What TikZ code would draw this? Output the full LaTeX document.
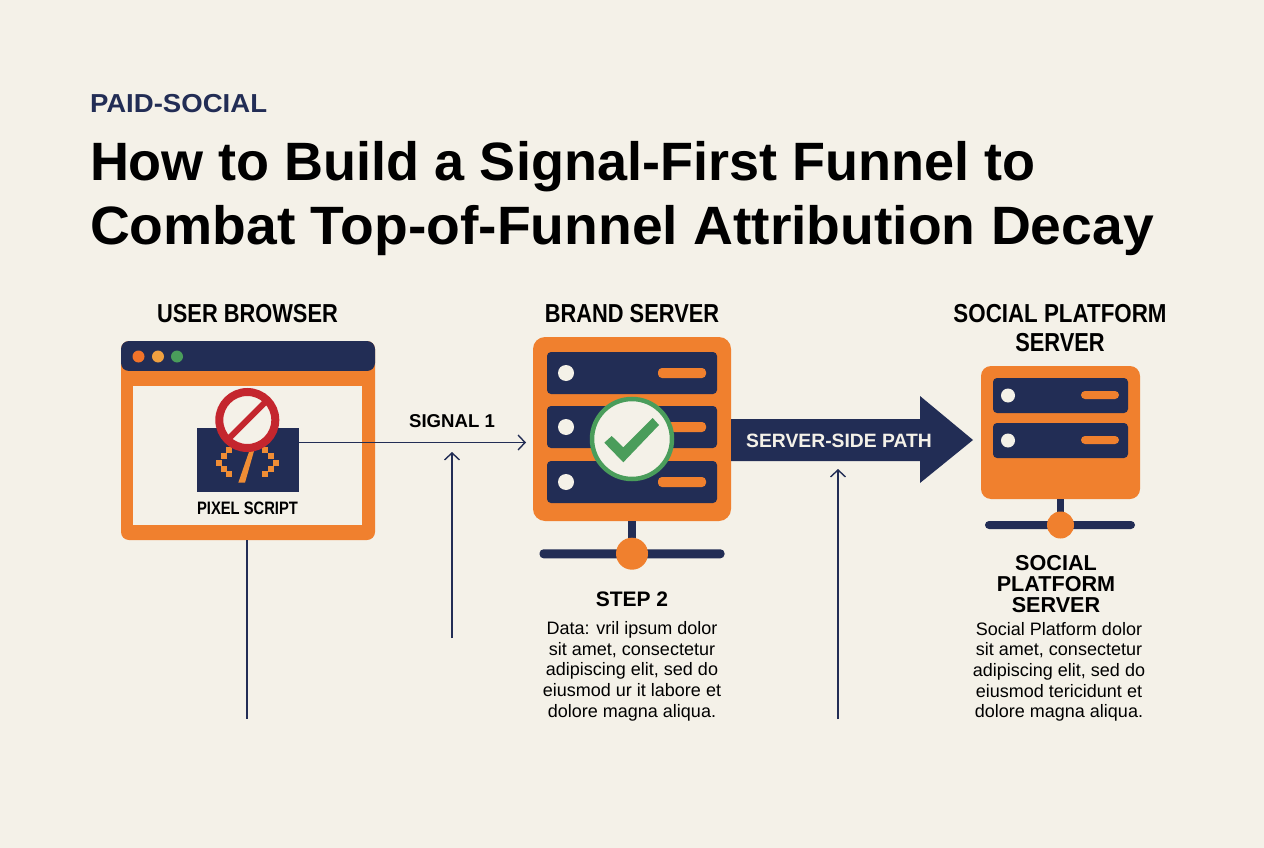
\documentclass[tikz,border=0pt]{standalone}
\usepackage{fontspec}
\setmainfont{Liberation Sans}
\usetikzlibrary{arrows.meta,calc}
\definecolor{bgc}{HTML}{F4F1E8}
\definecolor{navy}{HTML}{222D55}
\definecolor{orng}{HTML}{F0802E}
\definecolor{grn}{HTML}{4A9D5B}
\definecolor{redc}{HTML}{C4262E}
\definecolor{ambr}{HTML}{F0A040}
\tikzset{
  blk/.style={draw=none,inner sep=0pt,outer sep=0pt},
  txtn/.style={inner sep=0pt,outer sep=0pt,align=center,text=black},
  title/.style={txtn,anchor=base west,font=\fontsize{54}{60}\selectfont\bfseries},
  head/.style={txtn,anchor=base,font=\fontsize{26}{29}\selectfont\bfseries,xscale=.84},
  bodyt/.style={txtn,anchor=north,font=\fontsize{18}{20.7}\selectfont},
  sub/.style={txtn,anchor=base,font=\fontsize{21}{21}\selectfont\bfseries},
  wire/.style={draw=navy,line width=1.4pt},
  tip/.style={wire,-{Straight Barb[length=7pt,width=15pt,line width=1.4pt]}},
  pxl/.style={blk,fill=ambr!40!orng,minimum size=6.2pt},
  rack/.style={blk,fill=navy,rounded corners=4pt},
  pill/.style={blk,fill=orng,rounded corners=4pt},
  ldot/.style={blk,circle,fill=bgc}
}
\begin{document}
\begin{tikzpicture}[x=1pt,y=-1pt]
\useasboundingbox (0,0) rectangle (1264,848);
\fill[bgc] (0,0) rectangle (1264,848);

\node[txtn,anchor=base west,text=navy,font=\fontsize{26}{26}\selectfont\bfseries,xscale=1.06] (kicker) at (90,112.5) {PAID-SOCIAL};
\node[title] (t1) at (90,180) {How to Build a Signal-First Funnel to};
\node[title,xscale=1.023] (t2) at (90,244) {Combat Top-of-Funnel Attribution Decay};

\node[head] (h1) at (247.5,322) {USER BROWSER};
\node[head] (h2) at (632,322) {BRAND SERVER};
\node[head,xscale=1.023] (h3a) at (1060,322) {SOCIAL PLATFORM};
\node[head] (h3b) at (1060,351) {SERVER};

% browser window
\node[blk,fill=orng,rounded corners=8pt,minimum width=254pt,minimum height=199pt,anchor=north west] (browser) at (121,341) {};
\fill[navy,rounded corners=8pt] (121,371) -- (121,341) -- (375,341) -- (375,371) -- cycle;
\node[blk,fill=bgc,minimum width=229pt,minimum height=139pt,anchor=north west] (pane) at (133,386) {};
\fill[orng] (121,371) rectangle (375,375);
\node[blk,circle,fill=orng!90!red,minimum size=12pt] (d1) at (138.5,356.5) {};
\node[blk,circle,fill=ambr,minimum size=12pt] (d2) at (158,356.5) {};
\node[blk,circle,fill=grn,minimum size=12pt] (d3) at (177,356.5) {};

% pixel block
\node[blk,fill=navy,minimum width=102pt,minimum height=64pt,anchor=north west] (pixel) at (197,428) {};
\foreach \a/\b in {229/450,224/456,219/463,224/469,229/474,265/450,271/456,276/463,271/469,265/474}{
  \node[pxl] at (\a,\b) {};
}
\fill[ambr!40!orng] (249.3,451) -- (254,451) -- (245,482.7) -- (238.3,482.7) -- cycle;
\node[blk,circle,fill=bgc,draw=redc,line width=8pt,minimum size=56pt] (ban) at (247.3,420) {};
\draw[redc,line width=6pt] (ban.45) -- (ban.225);
\node[txtn,anchor=base,font=\fontsize{18}{18}\selectfont\bfseries,xscale=.82] (pxlabel) at (247.5,514) {PIXEL SCRIPT};

% brand server
\node[blk,fill=orng,rounded corners=12pt,minimum width=198pt,minimum height=184pt,anchor=north west] (brand) at (533,337) {};
\foreach \yy/\n in {352/a,406/b,461/c}{
  \node[rack,minimum width=170pt,minimum height=42pt,anchor=north west] (r\n) at (547,\yy) {};
  \node[ldot,minimum size=16pt] at ($(566,\yy)+(0,21)$) {};
  \node[pill,minimum width=48pt,minimum height=10pt,anchor=north west] at ($(658,\yy)+(0,16)$) {};
}
\node[blk,circle,fill=bgc,draw=grn,line width=4.5pt,minimum size=80pt] (chk) at (632,439) {};
\fill[grn] (604.3,442.7) -- (611.7,436) -- (623.3,447.3) -- (652.7,418) -- (659,425) -- (623.3,462.3) -- cycle;
\fill[navy] (628,521) rectangle (636,545);
\node[rack,rounded corners=4pt,minimum width=185pt,minimum height=9pt,anchor=north west] (bar2) at (539.5,549.3) {};
\node[blk,circle,fill=orng,minimum size=32pt] (hub2) at (632,553.7) {};

% server-side arrow
\fill[navy] (731,419) -- (920,419) -- (920,396) -- (973,440) -- (920,483) -- (920,461) -- (731,461) -- cycle;
\node[txtn,text=bgc,font=\fontsize{19.3}{19}\selectfont\bfseries] (path) at (839,440.5) {SERVER-SIDE PATH};

% social server
\node[blk,fill=orng,rounded corners=10pt,minimum width=159pt,minimum height=133pt,anchor=north west] (social) at (981,366) {};
\foreach \yy/\n in {378/a,423/b}{
  \node[rack,minimum width=135pt,minimum height=35pt,anchor=north west] (s\n) at (993,\yy) {};
  \node[ldot,minimum size=14pt] at ($(1008,\yy)+(0,17.5)$) {};
  \node[pill,minimum width=38pt,minimum height=8pt,anchor=north west] at ($(1081,\yy)+(0,13)$) {};
}
\fill[navy] (1057,499) rectangle (1064,522);
\node[rack,minimum width=150pt,minimum height=8pt,anchor=north west] (bar3) at (985,521) {};
\node[blk,circle,fill=orng,minimum size=27pt] (hub3) at (1060.5,525) {};

% connectors
\coordinate (signalEnd) at (526,442.5);
\coordinate (up1s) at (452,638);
\coordinate (up1e) at (452,452);
\coordinate (down1) at (247,719);
\coordinate (up2s) at (838,719);
\coordinate (up2e) at (838,469);
\draw[tip] ([yshift=17.5pt]pixel.east) -- (signalEnd);
\draw[tip] (up1s) -- (up1e);
\draw[wire] (down1 |- browser.south) -- (down1);
\draw[tip] (up2s) -- (up2e);
\node[txtn,font=\fontsize{18.6}{18}\selectfont\bfseries] (sig) at (452,421.5) {SIGNAL 1};

% texts
\node[sub] (st2) at (632,606) {STEP 2};
\node[bodyt] (b2) at (632,621.5) {Data: vril ipsum dolor\\sit amet, consectetur\\adipiscing elit, sed do\\eiusmod ur it labore et\\dolore magna aliqua.};
\node[txtn,anchor=north,font=\fontsize{21.6}{21}\selectfont\bfseries] (st3) at (1056,555) {SOCIAL\\PLATFORM\\SERVER};
\node[bodyt] (b3) at (1059,622) {Social Platform dolor\\sit amet, consectetur\\adipiscing elit, sed do\\eiusmod tericidunt et\\dolore magna aliqua.};
\end{tikzpicture}
\end{document}
